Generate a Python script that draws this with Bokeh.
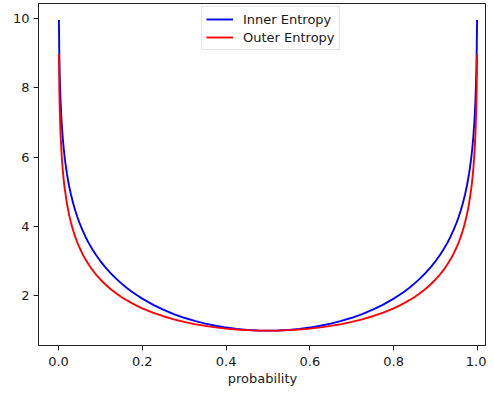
from bokeh.plotting import figure
from bokeh.models import Range1d, FixedTicker, Legend, LegendItem
from bokeh.embed import file_html
from bokeh.resources import INLINE

probability = [0.001, 0.002, 0.003, 0.005, 0.0075, 0.01, 0.0125, 0.015, 0.02, 0.025,
               0.03, 0.035, 0.04, 0.045, 0.05, 0.057, 0.065, 0.072, 0.08, 0.09,
               0.1, 0.112, 0.125, 0.1375, 0.15, 0.1625, 0.175, 0.1875, 0.2, 0.225,
               0.25, 0.275, 0.3, 0.325, 0.35, 0.375, 0.4, 0.425, 0.45, 0.475,
               0.5,
               0.525, 0.55, 0.575, 0.6, 0.625, 0.65, 0.675, 0.7, 0.725, 0.75,
               0.775, 0.8, 0.8125, 0.825, 0.8375, 0.85, 0.8625, 0.875, 0.888, 0.9,
               0.91, 0.92, 0.928, 0.935, 0.943, 0.95, 0.955, 0.96, 0.965, 0.97,
               0.975, 0.98, 0.985, 0.9875, 0.99, 0.9925, 0.995, 0.997, 0.998, 0.999]

inner_entropy = [9.956, 8.948, 8.356, 7.606, 7.006, 6.578, 6.243, 5.968, 5.532, 5.190,
                 4.908, 4.669, 4.461, 4.276, 4.110, 3.902, 3.693, 3.530, 3.362, 3.173,
                 3.005, 2.824, 2.649, 2.498, 2.362, 2.237, 2.123, 2.018, 1.922, 1.751,
                 1.604, 1.478, 1.370, 1.279, 1.202, 1.139, 1.088, 1.049, 1.022, 1.005,
                 1.000,
                 1.005, 1.022, 1.049, 1.088, 1.139, 1.202, 1.279, 1.370, 1.478, 1.604,
                 1.751, 1.922, 2.018, 2.123, 2.237, 2.362, 2.498, 2.649, 2.824, 3.005,
                 3.173, 3.362, 3.530, 3.693, 3.902, 4.110, 4.276, 4.461, 4.669, 4.908,
                 5.190, 5.532, 5.968, 6.243, 6.578, 7.006, 7.606, 8.356, 8.948, 9.956]

outer_entropy = [8.967, 7.969, 7.385, 6.651, 6.070, 5.658, 5.340, 5.081, 4.673, 4.358,
                 4.103, 3.888, 3.703, 3.540, 3.396, 3.218, 3.040, 2.904, 2.764, 2.610,
                 2.474, 2.330, 2.193, 2.076, 1.971, 1.877, 1.792, 1.715, 1.644, 1.520,
                 1.415, 1.326, 1.252, 1.189, 1.136, 1.093, 1.059, 1.033, 1.015, 1.004,
                 1.000,
                 1.004, 1.015, 1.033, 1.059, 1.093, 1.136, 1.189, 1.252, 1.326, 1.415,
                 1.520, 1.644, 1.715, 1.792, 1.877, 1.971, 2.076, 2.193, 2.330, 2.474,
                 2.610, 2.764, 2.904, 3.040, 3.218, 3.396, 3.540, 3.703, 3.888, 4.103,
                 4.358, 4.673, 5.081, 5.340, 5.658, 6.070, 6.651, 7.385, 7.969, 8.967]

x_ticks = [0.0, 0.2, 0.4, 0.6, 0.8, 1.0]
y_ticks = [2, 4, 6, 8, 10]

FONT = "DejaVu Sans"
TXT = "#1a1a1a"

p = figure(width=486, height=388, output_backend="svg", toolbar_location=None,
           x_range=Range1d(-0.0477, 1.0215), y_range=Range1d(0.571, 10.43),
           min_border_left=38, min_border_right=0, min_border_top=3,
           min_border_bottom=40)
p.background_fill_color = "white"
p.border_fill_color = "white"
p.outline_line_color = "#222222"
p.outline_line_width = 1
p.xgrid.visible = False
p.ygrid.visible = False

r1 = p.line(probability, inner_entropy, line_color="blue", line_width=1.9)
r2 = p.line(probability, outer_entropy, line_color="red", line_width=1.9)

for ax in (p.xaxis[0], p.yaxis[0]):
    ax.axis_line_color = "#222222"
    ax.axis_line_width = 1
    ax.major_tick_line_color = "#222222"
    ax.major_tick_line_width = 1
    ax.major_tick_in = 0
    ax.major_tick_out = 5
    ax.minor_tick_line_color = None
    ax.major_label_text_font = FONT
    ax.major_label_text_font_size = "13px"
    ax.major_label_text_color = TXT
    ax.major_label_standoff = 4

p.xaxis[0].major_label_standoff = 6
p.xaxis[0].ticker = FixedTicker(ticks=x_ticks)
p.yaxis[0].ticker = FixedTicker(ticks=y_ticks)
p.xaxis[0].major_label_overrides = {t: f"{t:.1f}" for t in x_ticks}
p.xaxis[0].axis_label = "probability"
p.xaxis[0].axis_label_text_font = FONT
p.xaxis[0].axis_label_text_font_size = "13px"
p.xaxis[0].axis_label_text_font_style = "normal"
p.xaxis[0].axis_label_text_color = TXT
p.xaxis[0].axis_label_standoff = 2

legend = Legend(items=[LegendItem(label="Inner Entropy", renderers=[r1]),
                       LegendItem(label="Outer Entropy", renderers=[r2])],
                location=(163, 295))
legend.label_text_font = FONT
legend.label_text_font_size = "13px"
legend.label_text_color = TXT
legend.padding = 4
legend.spacing = 2
legend.glyph_height = 16
legend.glyph_width = 27
legend.label_height = 16
legend.label_standoff = 10
legend.margin = 0
legend.border_line_color = "#cccccc"
legend.border_line_width = 1
legend.background_fill_alpha = 0.8
p.add_layout(legend, "center")

open("out.html", "w").write(file_html(p, INLINE))
